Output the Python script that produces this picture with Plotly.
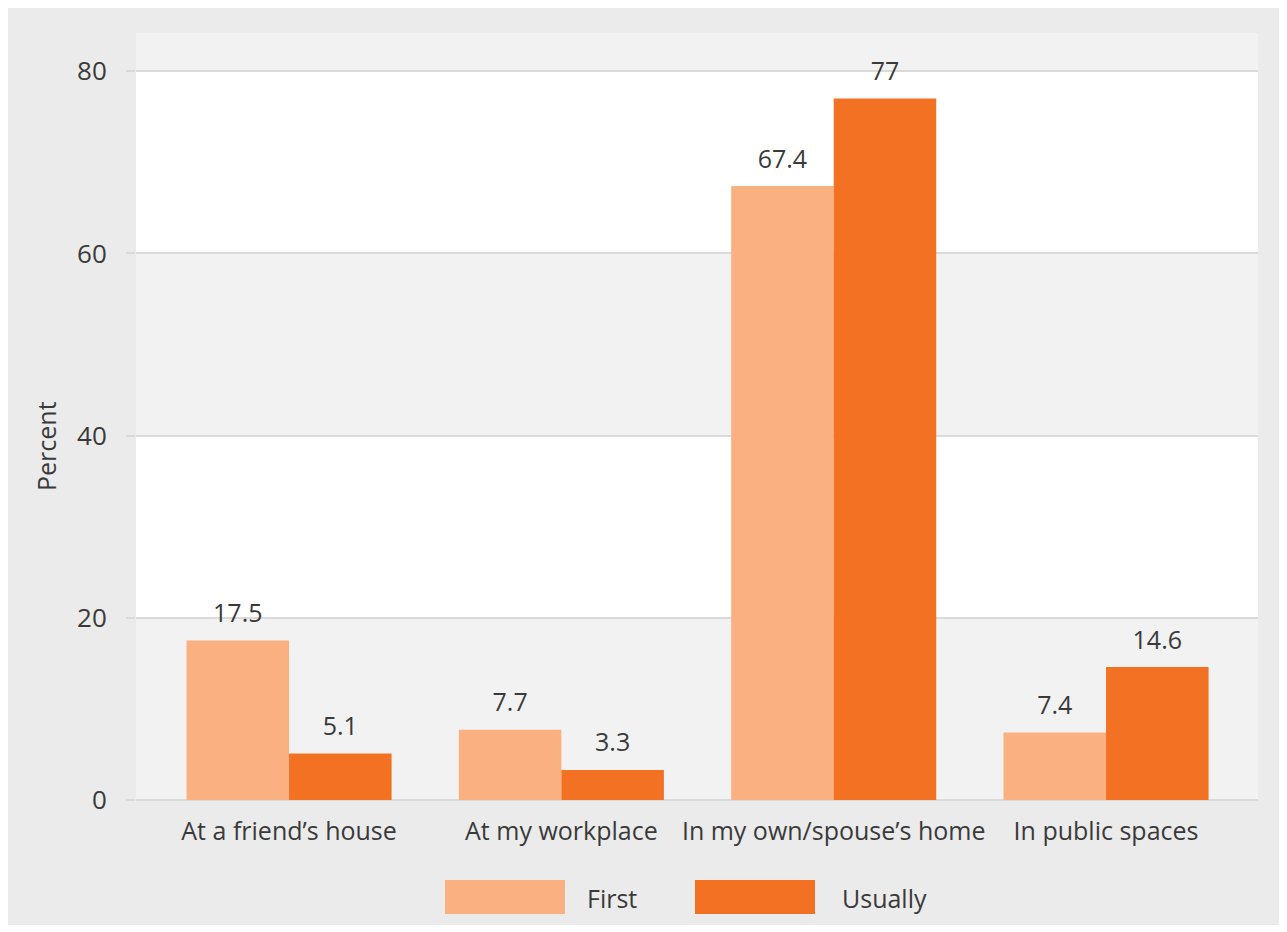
import plotly.graph_objects as go

categories = ["At a friend’s house", "At my workplace", "In my own/spouse’s home", "In public spaces"]
series_names = ["First", "Usually"]
first_values = [17.5, 7.7, 67.4, 7.4]
usually_values = [5.1, 3.3, 77, 14.6]
y_ticks = [0, 20, 40, 60, 80]

colors = ["#FAB080", "#F27122"]
FONT = "Open Sans"
TXT = "#3A3A3A"

OFF = 8  # page body margin
W, H = 1287 - OFF, 925 - OFF
ml, mr, mt, mb = 136 - OFF, 29, 33 - OFF, 925 - 800
pw, ph = W - ml - mr, H - mt - mb

def px(x):
    return (x - OFF - ml) / pw

def py(y):
    return (H - mb - (y - OFF)) / ph

GAP = 0.247

fig = go.Figure()
for name, vals, col in zip(series_names, [first_values, usually_values], colors):
    fig.add_trace(go.Bar(
        name=name, x=categories, y=vals, marker=dict(color=col, line=dict(width=0)),
        offsetgroup=name, showlegend=False, hoverinfo="x+y+name",
    ))
for name, vals in zip(series_names, [first_values, usually_values]):
    fig.add_trace(go.Scatter(
        name=name, x=categories, y=vals, mode="markers+text", offsetgroup=name,
        marker=dict(size=18, opacity=0), text=[f"{v:g}" for v in vals], textposition="top center",
        textfont=dict(family=FONT, size=25, color=TXT), cliponaxis=False, showlegend=False,
        hoverinfo="skip",
    ))

shapes = []
ymax = 84.2
bounds = y_ticks + [ymax]
for i in range(len(bounds) - 1):
    shapes.append(dict(type="rect", xref="paper", yref="y", x0=0, x1=1, y0=bounds[i], y1=bounds[i + 1],
                       fillcolor="#F2F2F2" if i % 2 == 0 else "#FFFFFF", line=dict(width=0), layer="below"))

annotations = []
leg_boxes = [(445, 565, 585), (695, 815, 840)]
for (x0, x1, tx), name, col in zip(leg_boxes, series_names, colors):
    shapes.append(dict(type="rect", xref="paper", yref="paper", x0=px(x0), x1=px(x1), y0=py(914), y1=py(880),
                       fillcolor=col, line=dict(width=0)))
    annotations.append(dict(xref="paper", yref="paper", x=px(tx), y=py(898), text=name, showarrow=False,
                            xanchor="left", yanchor="middle", font=dict(family=FONT, size=25, color=TXT)))
annotations.append(dict(xref="paper", yref="paper", x=px(46), y=py(446), text="Percent", textangle=-90,
                        showarrow=False, xanchor="center", yanchor="middle",
                        font=dict(family=FONT, size=25, color=TXT)))

fig.update_layout(
    width=W, height=H,
    margin=dict(l=ml, r=mr, t=mt, b=mb, autoexpand=False),
    paper_bgcolor="#EBEBEB", plot_bgcolor="#FFFFFF",
    barmode="group", bargap=GAP, bargroupgap=0,
    scattermode="group", scattergap=GAP,
    shapes=shapes, annotations=annotations, showlegend=False,
    font=dict(family=FONT, color=TXT),
    xaxis=dict(range=[-0.562, 3.558], showgrid=False, zeroline=False, showline=False, ticks="",
               tickfont=dict(family=FONT, size=25, color=TXT), ticklabelstandoff=14),
    yaxis=dict(range=[0, ymax], tickvals=y_ticks, showgrid=True, gridcolor="#DADADA", gridwidth=1.5,
               zeroline=True, zerolinecolor="#DADADA", zerolinewidth=1.5,
               ticks="outside", ticklen=9, tickcolor="#DADADA", tickwidth=1.5,
               tickfont=dict(family=FONT, size=26, color=TXT), ticklabelstandoff=14),
)

fig.write_html("out.html")
